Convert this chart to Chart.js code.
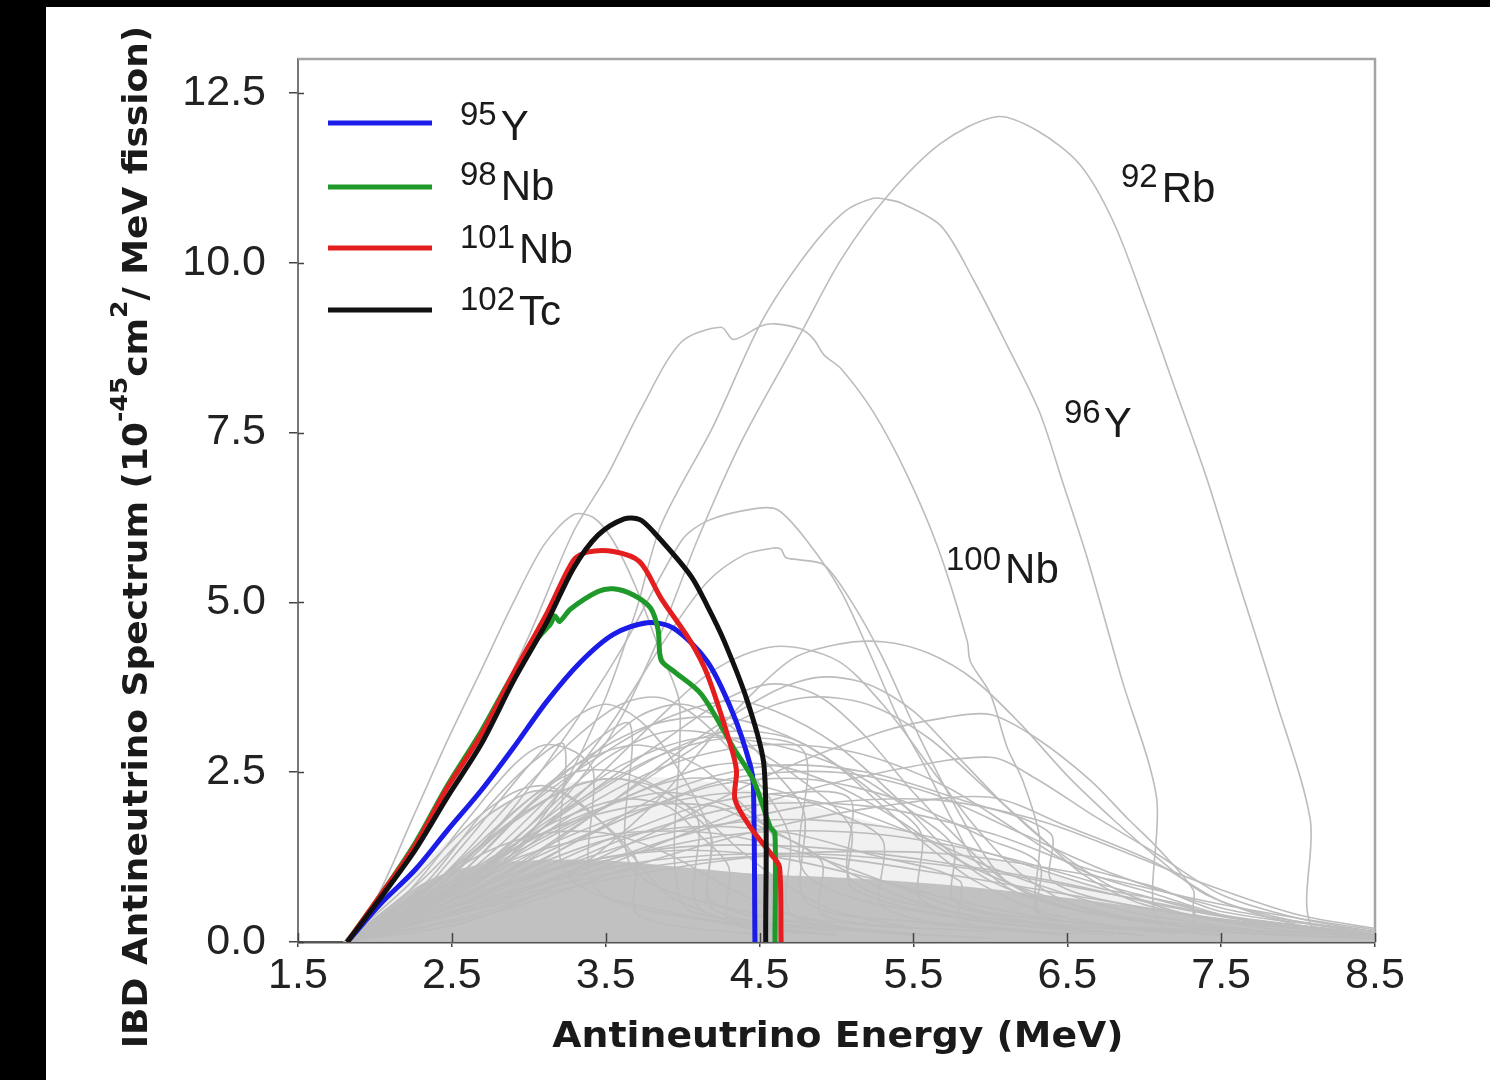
<!DOCTYPE html>
<html><head><meta charset="utf-8">
<script src="https://cdn.jsdelivr.net/npm/chart.js@4.4.1/dist/chart.umd.min.js"></script>
<style>html,body{margin:0;padding:0;background:#000;overflow:hidden}canvas{display:block}</style>
</head><body>
<canvas id="c" width="1490" height="1080" style="width:1490px;height:1080px"></canvas>
<script>
// ---------- data (energy MeV, spectrum 1e-45 cm2/MeV/fission) ----------
const xTicks = [1.5, 2.5, 3.5, 4.5, 5.5, 6.5, 7.5, 8.5];
const yTicks = [0, 2.5, 5, 7.5, 10, 12.5];

const y95 = [[1.82,0],[2.04,0.57],[2.26,1.06],[2.47,1.64],[2.69,2.23],[2.9,2.86],[3.12,3.55],[3.34,4.13],[3.55,4.53],[3.77,4.7],[3.94,4.62],[4.16,4.13],[4.33,3.35],[4.44,2.6],[4.46,2.3],[4.47,0]];
const nb98 = [[1.82,0],[2.04,0.7],[2.26,1.45],[2.47,2.3],[2.69,3.1],[2.9,3.95],[3.05,4.45],[3.14,4.68],[3.17,4.8],[3.2,4.72],[3.27,4.9],[3.45,5.16],[3.55,5.2],[3.68,5.11],[3.79,4.92],[3.84,4.6],[3.86,4.15],[3.94,3.99],[4.12,3.65],[4.33,2.86],[4.46,2.38],[4.57,1.69],[4.6,1.6],[4.6,0]];
const nb101 = [[1.82,0],[2.04,0.7],[2.26,1.42],[2.47,2.27],[2.69,3.05],[2.9,3.95],[3.12,4.85],[3.29,5.62],[3.38,5.74],[3.55,5.75],[3.72,5.6],[3.86,5.06],[4.05,4.43],[4.16,3.94],[4.31,2.91],[4.35,2.52],[4.34,2.1],[4.44,1.69],[4.59,1.25],[4.63,1.1],[4.64,0]];
const tc102 = [[1.82,0],[2.04,0.66],[2.26,1.35],[2.47,2.13],[2.69,2.91],[2.9,3.84],[3.12,4.72],[3.29,5.5],[3.45,5.99],[3.62,6.23],[3.72,6.22],[3.81,6.04],[4.05,5.4],[4.16,4.95],[4.27,4.43],[4.42,3.55],[4.53,2.57],[4.54,0]];

const rb92 = [[1.8,0],[2.2,0.35],[2.6,0.9],[3.0,1.6],[3.3,2.3],[3.6,3.3],[3.85,4.5],[4.1,5.94],[4.38,7.36],[4.77,8.97],[5.03,10.05],[5.33,10.98],[5.68,11.76],[6.04,12.15],[6.3,11.95],[6.58,11.45],[6.8,10.6],[7.02,9.3],[7.2,8.15],[7.41,6.8],[7.6,5.4],[7.85,3.6],[8.08,1.79],[8.085,0.25],[8.5,0.1]];
const y96 = [[1.8,0],[2.3,0.4],[2.8,1.1],[3.2,2.2],[3.5,3.6],[3.7,4.9],[3.86,6.14],[4.2,7.6],[4.51,9.12],[4.81,10.15],[5.05,10.75],[5.24,10.95],[5.33,10.93],[5.42,10.88],[5.68,10.54],[5.89,9.75],[6.11,8.78],[6.32,7.8],[6.47,6.77],[6.63,5.65],[6.85,3.9],[7.08,2.13],[7.085,0.3],[7.5,0.15],[8.5,0.05]];
const nb100 = [[1.8,0],[2.1,0.8],[2.4,1.9],[2.7,3.1],[3.0,4.5],[3.29,6.04],[3.51,6.87],[3.73,7.85],[3.99,8.83],[4.25,9.05],[4.33,8.87],[4.51,9.07],[4.6,9.1],[4.77,9.02],[4.85,8.88],[4.92,8.64],[5.03,8.44],[5.24,7.8],[5.46,6.87],[5.66,5.8],[5.85,4.43],[5.87,4.13],[6.0,3.65],[6.11,2.86],[6.21,2.38],[6.32,1.54],[6.325,0.35],[7.0,0.2],[8.5,0.05]];

const otherIsotopes = [
 [[1.8,0],[2.0,0.6],[2.26,1.9],[2.47,2.96],[2.69,4.0],[2.9,5.0],[3.1,5.85],[3.29,6.29],[3.42,6.25],[3.55,5.9],[3.7,5.2],[3.85,4.3],[3.98,3.5],[3.99,0.6],[4.5,0.3],[5.5,0.1]],
 [[1.8,0],[2.3,0.6],[2.8,1.7],[3.2,2.9],[3.6,4.3],[3.99,5.9],[4.16,6.2],[4.47,6.38],[4.62,6.36],[4.81,5.9],[5.03,5.16],[5.24,4.13],[5.4,3.3],[5.57,2.6],[5.75,1.8],[5.9,1.2],[6.2,0.7],[7.0,0.3],[8.0,0.1]],
 [[1.8,0],[2.4,0.6],[3.0,1.7],[3.5,3.1],[3.9,4.5],[4.16,5.3],[4.4,5.7],[4.59,5.8],[4.64,5.78],[4.67,5.66],[4.75,5.63],[4.92,5.55],[5.1,5.0],[5.29,4.23],[5.5,3.2],[5.7,2.3],[5.9,1.5],[6.1,0.9],[6.5,0.5],[7.5,0.2]],
 [[1.8,0],[2.3,0.5],[2.8,1.4],[3.3,2.5],[3.7,3.3],[4.0,3.5],[4.3,3.2],[4.6,2.5],[4.79,1.9],[4.8,0.6],[5.5,0.3],[6.5,0.1]],
 [[1.8,0],[2.4,0.6],[3.0,1.7],[3.5,2.7],[3.9,3.1],[4.3,3.0],[4.7,2.5],[5.09,1.7],[5.1,0.8],[6,0.3],[7,0.1]],
 [[1.8,0],[2.2,0.5],[2.6,1.5],[3.0,2.6],[3.3,3.3],[3.5,3.5],[3.7,3.3],[3.9,2.8],[4.18,1.6],[4.19,0.5],[5,0.2],[6,0.05]],
 [[1.8,0],[2.5,0.7],[3.1,1.8],[3.6,2.6],[4.1,3.0],[4.6,2.9],[5.1,2.5],[5.5,1.9],[5.76,1.4],[5.77,0.6],[6.5,0.3],[7.5,0.1]],
 [[1.8,0],[2.6,0.6],[3.4,1.6],[4.0,2.3],[4.6,2.6],[5.2,2.5],[5.8,2.1],[6.39,1.6],[6.4,0.9],[7,0.5],[8,0.2],[8.5,0.1]],
 [[1.8,0],[2.2,0.7],[2.6,1.8],[2.9,2.6],[3.1,2.9],[3.3,2.8],[3.42,2.5],[3.43,0.8],[4.2,0.3],[5,0.1]],
 [[1.8,0],[2.3,0.8],[2.7,1.9],[3.0,2.6],[3.23,2.9],[3.24,1.0],[4,0.4],[5,0.1]],
 [[1.8,0],[2.5,0.9],[3.0,2.0],[3.4,2.9],[3.66,3.2],[3.67,1.1],[4.5,0.4],[5.5,0.1]],
 [[1.8,0],[2.8,0.9],[3.6,1.8],[4.3,2.4],[5.0,2.5],[5.6,2.2],[6.2,1.6],[6.8,1.0],[7.5,0.5],[8.0,0.3],[8.5,0.15]],
 [[1.8,0],[2.7,0.6],[3.6,1.5],[4.4,2.0],[5.2,2.0],[6.0,1.6],[6.6,1.1],[7.08,0.8],[7.5,0.45],[8.5,0.15]],
 [[1.8,0],[2.4,0.8],[2.9,1.9],[3.3,2.6],[3.7,2.9],[4.1,2.6],[4.4,2.0],[4.6,1.5],[4.61,0.5],[5.5,0.2]],
 [[1.8,0],[2.5,0.9],[3.0,2.0],[3.5,2.8],[3.9,3.3],[4.3,3.55],[4.6,3.4],[5.0,2.9],[5.4,2.1],[5.7,1.4],[6.0,0.9],[6.5,0.5],[7.5,0.15]],
 [[1.8,0],[2.3,0.6],[2.8,1.6],[3.3,2.6],[3.8,3.2],[4.3,3.3],[4.8,2.9],[5.3,2.1],[5.55,1.6],[5.56,0.6],[6.5,0.25],[7.5,0.1]],
 [[1.8,0],[2.6,0.8],[3.3,1.9],[3.9,2.6],[4.5,2.9],[5.1,2.8],[5.7,2.3],[6.2,1.6],[6.6,1.05],[7.08,0.7],[7.6,0.35],[8.5,0.1]],
 [[1.8,0],[2.2,0.4],[2.7,1.1],[3.2,1.7],[3.7,2.0],[4.2,2.0],[4.5,1.7],[4.9,1.2],[4.91,0.4],[6,0.15]],
 [[1.8,0],[2.5,0.5],[3.2,1.1],[3.9,1.6],[4.6,1.8],[5.3,1.7],[6.0,1.3],[6.7,0.8],[7.32,0.5],[7.33,0.25],[8.5,0.08]],
 [[1.8,0],[2.3,0.6],[2.8,1.3],[3.2,1.8],[3.6,2.1],[3.9,2.0],[4.1,1.6],[4.3,1.1],[4.31,0.3],[5,0.1]],
 [[1.8,0],[2.4,0.5],[3.0,1.2],[3.6,1.8],[4.2,2.3],[4.8,2.4],[5.4,2.1],[6.0,1.5],[6.32,1.15],[6.33,0.4],[7.5,0.15]],
 [[1.8,0],[2.6,0.5],[3.5,1.2],[4.4,1.6],[5.2,1.6],[6.0,1.3],[6.8,0.8],[7.5,0.4],[8.5,0.12]],
 [[1.8,0],[2.2,0.5],[2.6,1.3],[3.0,2.1],[3.3,2.5],[3.6,2.5],[3.9,2.2],[4.1,1.8],[4.11,0.5],[5,0.15]],
 [[1.8,0],[2.3,0.5],[2.9,1.3],[3.5,2.0],[4.0,2.4],[4.5,2.3],[5.0,1.9],[5.3,1.5],[5.31,0.5],[6.3,0.15]],
 [[1.8,0],[2.4,0.9],[2.9,2.1],[3.3,3.0],[3.6,3.5],[3.85,3.6],[4.1,3.3],[4.4,2.6],[4.6,2.0],[4.7,1.5],[4.71,0.4],[5.6,0.1]],
 [[1.8,0],[2.6,0.7],[3.3,1.7],[3.9,2.6],[4.4,3.3],[4.8,3.6],[5.2,3.5],[5.6,3.0],[6.0,2.2],[6.3,1.6],[6.6,1.0],[7.0,0.55],[7.8,0.2],[8.5,0.08]],
 [[1.8,0],[2.7,0.8],[3.5,2.0],[4.1,3.0],[4.6,3.7],[4.9,3.9],[5.2,3.8],[5.5,3.4],[5.8,2.7],[6.1,2.0],[6.4,1.4],[6.8,0.8],[7.3,0.4],[8.5,0.1]],
 [[1.8,0],[2.3,0.5],[2.8,1.2],[3.4,2.2],[3.9,3.0],[4.3,3.6],[4.6,3.8],[4.9,3.6],[5.2,3.0],[5.5,2.2],[5.8,1.5],[6.1,0.9],[6.6,0.45],[7.5,0.15]],
 [[1.8,0],[2.8,0.6],[3.8,1.6],[4.6,2.5],[5.3,3.1],[5.7,3.3],[6.0,3.35],[6.3,3.0],[6.65,2.38],[6.9,1.8],[7.08,1.4],[7.32,0.76],[7.33,0.4],[8.0,0.2],[8.5,0.1]],
 [[1.8,0],[2.8,0.5],[3.8,1.4],[4.6,2.1],[5.3,2.5],[6.0,2.72],[6.3,2.4],[6.65,1.89],[7.08,1.3],[7.5,0.7],[8.0,0.35],[8.5,0.15]],
 [[1.8,0],[2.8,0.45],[3.8,1.2],[4.6,1.7],[5.3,2.0],[6.0,2.13],[6.5,1.7],[7.08,1.16],[7.5,0.6],[8.0,0.3],[8.5,0.12]],
 [[1.8,0],[2.6,0.3],[3.2,0.9],[3.8,2.0],[4.3,3.3],[4.7,4.15],[5.0,4.38],[5.3,4.42],[5.6,4.25],[5.9,3.85],[6.2,3.2],[6.5,2.45],[6.8,1.8],[7.08,1.25],[7.4,0.7],[8.0,0.25],[8.5,0.1]],
 [[1.8,0],[2.6,0.8],[3.2,1.9],[3.8,3.2],[4.2,4.0],[4.6,4.35],[5.0,4.15],[5.3,3.5],[5.6,2.6],[5.9,1.7],[6.2,1.0],[6.6,0.5],[7.5,0.15]],
 [[1.8,0],[2.5,0.6],[3.2,1.1],[4.0,1.4],[4.8,1.4],[5.6,1.2],[6.4,0.9],[7.2,0.5],[8.0,0.2],[8.5,0.1]],
 [[1.8,0],[2.4,0.7],[3.0,1.3],[3.6,1.6],[4.2,1.6],[4.8,1.3],[5.3,0.9],[5.8,0.5],[6.5,0.2]],
 [[1.8,0],[2.2,0.6],[2.7,1.3],[3.1,1.6],[3.5,1.6],[3.9,1.3],[4.3,0.8],[4.7,0.4],[5.2,0.15]],
 [[1.8,0],[2.8,0.7],[3.8,1.2],[4.8,1.3],[5.8,1.1],[6.8,0.7],[7.6,0.35],[8.5,0.12]],
 [[1.8,0],[2.3,0.9],[2.7,1.8],[3.0,2.2],[3.2,2.2],[3.4,1.9],[3.6,1.5],[3.7,1.2],[3.71,0.4],[4.5,0.1]],
 [[1.8,0],[2.3,0.4],[2.9,1.0],[3.5,1.5],[4.1,1.7],[4.7,1.6],[5.2,1.3],[5.8,0.9],[5.81,0.3],[6.8,0.1]],
 [[1.8,0],[2.5,0.4],[3.3,0.9],[4.1,1.2],[4.9,1.25],[5.7,1.0],[6.5,0.7],[7.3,0.4],[8.3,0.12]],
 [[1.8,0],[2.2,0.8],[2.6,1.7],[2.9,2.2],[3.1,2.3],[3.3,2.1],[3.5,1.7],[3.7,1.2],[3.9,0.7],[4.3,0.3]],
 [[1.8,0],[2.4,0.6],[3.1,1.5],[3.7,2.2],[4.2,2.6],[4.6,2.6],[5.0,2.3],[5.4,1.8],[5.8,1.2],[6.2,0.8],[6.8,0.4],[7.5,0.15]],
 [[1.8,0],[2.6,0.9],[3.3,2.0],[3.9,2.8],[4.3,3.1],[4.7,3.0],[5.0,2.6],[5.3,2.0],[5.6,1.4],[5.9,0.9],[6.4,0.4],[7.2,0.12]],
 [[1.8,0],[2.4,0.7],[3.0,1.5],[3.5,2.0],[3.9,2.2],[4.3,2.0],[4.7,1.5],[5.1,1.0],[5.5,0.6],[6.1,0.25]],
 [[1.8,0],[2.7,0.5],[3.7,1.0],[4.7,1.3],[5.7,1.3],[6.6,1.0],[7.4,0.6],[8.0,0.35],[8.5,0.18]],
 [[1.8,0],[2.3,0.7],[2.8,1.6],[3.2,2.2],[3.5,2.4],[3.8,2.3],[4.1,1.9],[4.4,1.3],[4.7,0.8],[5.0,0.45],[5.5,0.2]],
 [[1.8,0],[2.5,0.7],[3.2,1.5],[3.8,2.0],[4.4,2.2],[5.0,2.0],[5.5,1.6],[6.0,1.1],[6.5,0.7],[7.0,0.4],[7.8,0.15]],
 [[1.8,0],[2.9,0.7],[3.9,1.5],[4.8,2.0],[5.6,2.1],[6.3,1.8],[6.9,1.3],[7.4,0.85],[8.0,0.4],[8.5,0.2]],
 [[1.8,0],[2.2,0.3],[2.8,0.8],[3.4,1.2],[4.0,1.35],[4.6,1.25],[5.2,0.95],[5.8,0.6],[6.5,0.3],[7.5,0.1]],
 [[1.8,0],[2.4,0.9],[2.9,1.8],[3.3,2.3],[3.6,2.4],[3.9,2.1],[4.18,1.6],[4.19,0.6],[5,0.2]],
 [[1.8,0],[2.6,0.6],[3.4,1.4],[4.1,2.0],[4.7,2.2],[5.09,2.1],[5.1,0.9],[6,0.35],[7,0.1]],
 [[1.8,0],[2.5,0.8],[3.2,1.9],[3.8,2.7],[4.3,3.0],[4.79,2.8],[4.8,1.0],[5.8,0.35],[7,0.1]]
];
// dense overlap of the many weak spectra (envelopes)
const denseCore = [[1.8,0],[2.1,0.5],[2.3,0.85],[2.6,1.1],[3.0,1.2],[3.5,1.2],[4.0,1.1],[4.5,1.0],[5.0,0.95],[5.5,0.88],[6.0,0.78],[6.5,0.65],[7.0,0.5],[7.5,0.33],[8.0,0.2],[8.5,0.1]];
const denseMesh = [[1.8,0],[2.2,0.9],[2.6,1.7],[3.0,2.2],[3.5,2.4],[4.0,2.4],[4.5,2.2],[5.0,1.9],[5.5,1.6],[6.0,1.25],[6.5,0.95],[7.0,0.65],[7.5,0.42],[8.0,0.25],[8.5,0.12]];

// ---------- chart ----------
const pts = a => a.map(p => ({x: p[0], y: p[1]}));
const GRAY = '#bcbcbc';
const COLORS = {y95:'#1c1ce8', nb98:'#1f9a2a', nb101:'#e41e1e', tc102:'#111111'};

const datasets = [
  {label:'102Tc', data:pts(tc102), borderColor:COLORS.tc102, borderWidth:5, tension:0.3},
  {label:'101Nb', data:pts(nb101), borderColor:COLORS.nb101, borderWidth:5, tension:0.3},
  {label:'98Nb', data:pts(nb98), borderColor:COLORS.nb98, borderWidth:5, tension:0.3},
  {label:'95Y', data:pts(y95), borderColor:COLORS.y95, borderWidth:5, tension:0.3},
  {label:'92Rb', data:pts(rb92), borderColor:GRAY, borderWidth:1.6, tension:0.3},
  {label:'96Y', data:pts(y96), borderColor:GRAY, borderWidth:1.6, tension:0.3},
  {label:'100Nb', data:pts(nb100), borderColor:GRAY, borderWidth:1.6, tension:0.3},
  ...otherIsotopes.map((c,i) => ({label:'iso'+i, data:pts(c), borderColor:GRAY, borderWidth:1.6, tension:0.3})),
  {label:'mesh', data:pts(denseMesh), borderWidth:0, borderColor:'rgba(0,0,0,0)', fill:'origin', backgroundColor:'rgba(200,200,200,0.25)', tension:0.4},
  {label:'core', data:pts(denseCore), borderWidth:0, borderColor:'rgba(0,0,0,0)', fill:'origin', backgroundColor:'rgba(188,188,188,0.95)', tension:0.4}
];

function supLabel(ctx, x, base, sup, main, supPx, mainPx, raise, gap){
  ctx.font = supPx + 'px "Liberation Sans", Arial, sans-serif';
  ctx.fillText(sup, x, base - raise);
  const w = ctx.measureText(sup).width;
  ctx.font = mainPx + 'px "Liberation Sans", Arial, sans-serif';
  ctx.fillText(main, x + w + gap, base);
}

const deco = {
  id: 'deco',
  beforeDraw(chart){
    const c = chart.ctx;
    c.save();
    c.fillStyle = '#000'; c.fillRect(0, 0, chart.width, chart.height);
    c.fillStyle = '#fff'; c.fillRect(46, 7, chart.width - 46, chart.height - 7);
    c.restore();
  },
  beforeDatasetsDraw(chart){
    const {ctx, chartArea:a} = chart;
    ctx.save();
    ctx.strokeStyle = '#a4a4a4'; ctx.lineWidth = 2.5;
    ctx.beginPath(); ctx.moveTo(a.left, a.top); ctx.lineTo(a.right, a.top); ctx.lineTo(a.right, a.bottom); ctx.stroke();
    ctx.restore();
  },
  afterDraw(chart){
    const {ctx, chartArea:a, scales} = chart;
    ctx.save();
    // inner tick parts
    ctx.strokeStyle = '#444'; ctx.lineWidth = 1.5;
    ctx.beginPath();
    yTicks.forEach(v => { const y = Math.round(scales.y.getPixelForValue(v)) + 0.5; ctx.moveTo(a.left, y); ctx.lineTo(a.left + 6, y); });
    xTicks.forEach(v => { const x = Math.round(scales.x.getPixelForValue(v)) + 0.5; ctx.moveTo(x, a.bottom); ctx.lineTo(x, a.bottom - 9); });
    ctx.stroke();

    // legend
    const legend = [['95','Y',COLORS.y95,123,140],['98','Nb',COLORS.nb98,187,200],['101','Nb',COLORS.nb101,248,263],['102','Tc',COLORS.tc102,310,325]];
    ctx.lineCap = 'butt';
    legend.forEach(([s,m,col,ly,base]) => {
      ctx.strokeStyle = col; ctx.lineWidth = 5;
      ctx.beginPath(); ctx.moveTo(328, ly); ctx.lineTo(432, ly); ctx.stroke();
      ctx.fillStyle = '#1a1a1a'; ctx.textAlign = 'left'; ctx.textBaseline = 'alphabetic';
      supLabel(ctx, 460, base, s, m, 33, 42, 15, 4);
    });

    // curve annotations
    ctx.fillStyle = '#1a1a1a';
    supLabel(ctx, 1121, 202, '92', 'Rb', 33, 42, 15, 4);
    supLabel(ctx, 1064, 437, '96', 'Y', 33, 42, 14, 3);
    supLabel(ctx, 946, 583, '100', 'Nb', 33, 42, 13, 4);

    // x axis title
    ctx.save();
    ctx.font = 'bold 35px "DejaVu Sans", Verdana, sans-serif';
    ctx.textAlign = 'center'; ctx.textBaseline = 'alphabetic';
    ctx.translate(838, 1047); ctx.scale(1.08, 1);
    ctx.fillText('Antineutrino Energy (MeV)', 0, 0);
    ctx.restore();

    // y axis title (rotated, with superscripts)
    ctx.save();
    ctx.translate(147, 537); ctx.rotate(-Math.PI/2); ctx.scale(1.09, 1);
    const parts = [['IBD Antineutrino Spectrum (10',0],['-45',1],['cm',0],['2',1],['/ MeV fission)',0]];
    const mainF = 'bold 33px "DejaVu Sans", Verdana, sans-serif', supF = 'bold 23px "DejaVu Sans", Verdana, sans-serif';
    let total = 0;
    parts.forEach(([t,s]) => { ctx.font = s ? supF : mainF; total += ctx.measureText(t).width; });
    let x = -total/2;
    ctx.textAlign = 'left'; ctx.textBaseline = 'alphabetic';
    parts.forEach(([t,s]) => { ctx.font = s ? supF : mainF; ctx.fillText(t, x, s ? -20 : 0); x += ctx.measureText(t).width; });
    ctx.restore();
    ctx.restore();
  }
};

new Chart(document.getElementById('c'), {
  type: 'line',
  data: {datasets},
  options: {
    responsive: false, animation: false, devicePixelRatio: 1,
    parsing: true, normalized: true,
    layout: {padding: {top: 59, right: 115, left: 0, bottom: 0}},
    elements: {point: {radius: 0, hoverRadius: 0}, line: {fill: false, capBezierPoints: true}},
    plugins: {legend: {display: false}, tooltip: {enabled: false}, title: {display: false}},
    events: [],
    scales: {
      x: {
        type: 'linear', min: 1.5, max: 8.5, z: 1,
        afterBuildTicks: s => { s.ticks = xTicks.map(v => ({value: v})); },
        afterFit: s => { s.height = 138; },
        ticks: {callback: v => Number(v).toFixed(1), maxRotation: 0, autoSkip: false, padding: 3, color: '#222',
                font: {family: '"Liberation Sans", Arial, sans-serif', size: 43}},
        grid: {display: true, drawOnChartArea: false, drawTicks: true, tickLength: 5, color: '#444', lineWidth: 1.5},
        border: {display: true, color: '#555', width: 2.5}
      },
      y: {
        type: 'linear', min: 0, max: 13, z: 1,
        afterBuildTicks: s => { s.ticks = yTicks.map(v => ({value: v})); },
        afterFit: s => { s.width = 298; },
        ticks: {callback: v => Number(v).toFixed(1), padding: 23, color: '#222',
                font: {family: '"Liberation Sans", Arial, sans-serif', size: 43}},
        grid: {display: true, drawOnChartArea: false, drawTicks: true, tickLength: 9, color: '#444', lineWidth: 1.5},
        border: {display: true, color: '#777', width: 2}
      }
    }
  },
  plugins: [deco]
});
</script>
</body></html>
